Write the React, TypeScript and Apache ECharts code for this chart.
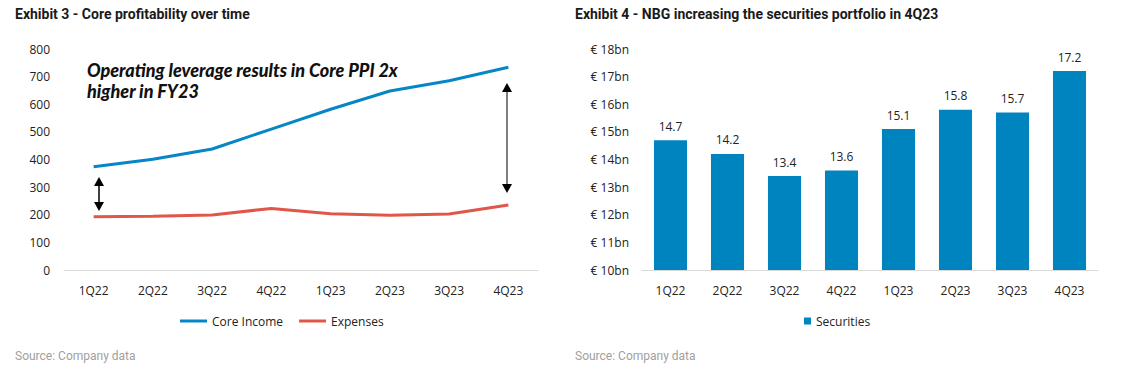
import React, { useEffect, useRef } from "react";
import * as echarts from "echarts";

const categories = ["1Q22", "2Q22", "3Q22", "4Q22", "1Q23", "2Q23", "3Q23", "4Q23"];
const coreIncome = [374, 401, 438, 510, 582, 648, 685, 734];
const expenses = [193, 195, 199, 223, 204, 198, 203, 235];
const securities = [14.7, 14.2, 13.4, 13.6, 15.1, 15.8, 15.7, 17.2];

const leftTitle = "Exhibit 3 - Core profitability over time";
const rightTitle = "Exhibit 4 - NBG increasing the securities portfolio in 4Q23";
const sourceText = "Source: Company data";
const annotation = "Operating leverage results in Core PPI 2x\nhigher in FY23";

const BLUE_LINE = "#0786c5";
const RED_LINE = "#e0574a";
const BAR = "#0084c0";
const AXIS_FONT = "'Open Sans', sans-serif";

function arrow(x: number, y1: number, y2: number, lineColor: string) {
  const h = 8;
  const w = 5;
  return [
    {
      type: "line",
      shape: { x1: x, y1: y1 + h, x2: x, y2: y2 - h },
      style: { stroke: lineColor, lineWidth: 1.5 },
      silent: true,
    },
    {
      type: "polygon",
      shape: { points: [[x, y1], [x - w, y1 + h + 1], [x + w, y1 + h + 1]] },
      style: { fill: "#000" },
      silent: true,
    },
    {
      type: "polygon",
      shape: { points: [[x, y2], [x - w, y2 - h - 1], [x + w, y2 - h - 1]] },
      style: { fill: "#000" },
      silent: true,
    },
  ];
}

export default function App() {
  const ref = useRef<HTMLDivElement>(null);
  useEffect(() => {
    if (!ref.current) return;
    const chart = echarts.init(ref.current, null, { renderer: "svg" });
    const axisLabel = { fontFamily: AXIS_FONT, fontSize: 12, color: "#222" };
    const titleStyle = { fontFamily: "Roboto", fontWeight: "bold", fontSize: 14, color: "#1a1a1a" };
    const sourceStyle = { fontFamily: "Roboto", fontWeight: "normal", fontSize: 12, color: "#a0a0a0" };
    chart.setOption({
      animation: false,
      backgroundColor: "#fff",
      title: [
        { text: leftTitle, left: 10, top: 2, textStyle: titleStyle },
        { text: rightTitle, left: 570, top: 2, textStyle: titleStyle },
        { text: sourceText, left: 10, top: 345, textStyle: sourceStyle },
        { text: sourceText, left: 570, top: 345, textStyle: sourceStyle },
      ],
      legend: [
        {
          data: ["Core Income", "Expenses"],
          left: 175,
          top: 310,
          itemWidth: 27,
          itemHeight: 3,
          itemGap: 16,
          icon: "rect",
          textStyle: { fontFamily: AXIS_FONT, fontSize: 12, color: "#222" },
        },
        {
          data: ["Securities"],
          left: 799,
          top: 310,
          itemWidth: 7,
          itemHeight: 7,
          icon: "rect",
          textStyle: { fontFamily: AXIS_FONT, fontSize: 12, color: "#222" },
        },
      ],
      grid: [
        { left: 64, right: 584, top: 49, bottom: 96 },
        { left: 642, right: 24, top: 49, bottom: 96 },
      ],
      xAxis: [
        {
          type: "category",
          gridIndex: 0,
          data: categories,
          axisLine: { lineStyle: { color: "#d9d9d9", width: 1 } },
          axisTick: { show: false },
          axisLabel: { ...axisLabel, margin: 14 },
        },
        {
          type: "category",
          gridIndex: 1,
          data: categories,
          axisLine: { lineStyle: { color: "#d9d9d9", width: 1 } },
          axisTick: { show: false },
          axisLabel: { ...axisLabel, margin: 14 },
        },
      ],
      yAxis: [
        {
          type: "value",
          gridIndex: 0,
          min: 0,
          max: 800,
          interval: 100,
          splitLine: { show: false },
          axisLine: { show: false },
          axisTick: { show: false },
          axisLabel: { ...axisLabel, margin: 14 },
        },
        {
          type: "value",
          gridIndex: 1,
          min: 10,
          max: 18,
          interval: 1,
          splitLine: { show: false },
          axisLine: { show: false },
          axisTick: { show: false },
          axisLabel: { ...axisLabel, margin: 13, formatter: (v: number) => `€ ${v}bn` },
        },
      ],
      series: [
        {
          name: "Core Income",
          type: "line",
          xAxisIndex: 0,
          yAxisIndex: 0,
          data: coreIncome,
          showSymbol: false,
          symbol: "none",
          lineStyle: { color: BLUE_LINE, width: 3 },
          itemStyle: { color: BLUE_LINE },
        },
        {
          name: "Expenses",
          type: "line",
          xAxisIndex: 0,
          yAxisIndex: 0,
          data: expenses,
          showSymbol: false,
          symbol: "none",
          lineStyle: { color: RED_LINE, width: 3 },
          itemStyle: { color: RED_LINE },
        },
        {
          name: "Securities",
          type: "bar",
          xAxisIndex: 1,
          yAxisIndex: 1,
          data: securities,
          barWidth: "58%",
          itemStyle: { color: BAR },
          label: {
            show: true,
            position: "top",
            distance: 8,
            fontFamily: AXIS_FONT,
            fontSize: 12,
            color: "#222",
            formatter: (p: any) => p.value.toFixed(1),
          },
        },
      ],
      graphic: [
        {
          type: "text",
          left: 87,
          top: 59,
          style: {
            text: annotation,
            font: "italic 900 18px Lato",
            fill: "#111",
            lineHeight: 21,
          },
          silent: true,
        },
        ...arrow(99, 177, 211, "#000"),
        ...arrow(507, 83, 193, "#555"),
      ],
    });
    return () => chart.dispose();
  }, []);
  return (
    <div
      ref={ref}
      style={{ position: "absolute", left: 0, top: 0, width: 1122, height: 366 }}
    />
  );
}
